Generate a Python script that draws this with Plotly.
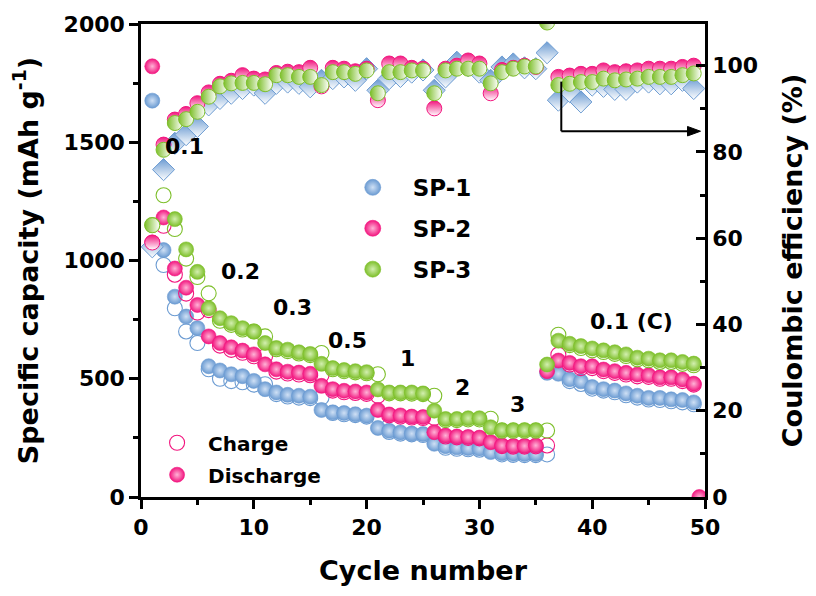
import plotly.graph_objects as go

cycles = list(range(1, 50))

sp1_discharge = [1676, 1044, 847, 763, 714, 553, 535, 519, 511, 491, 456, 442, 432, 428, 424,
                 368, 358, 355, 350, 344, 292, 280, 273, 268, 266, 225, 215, 210, 207, 205,
                 190, 185, 183, 182, 182, 525, 521, 498, 489, 465, 456, 450, 438, 428, 419,
                 419, 413, 410, 400]
sp1_charge = [1060, 981, 798, 700, 651, 540, 500, 490, 485, 475, 477, 435, 425, 420, 418,
              420, 355, 350, 346, 340, 340, 275, 268, 265, 262, 262, 208, 204, 202, 200,
              200, 180, 178, 177, 177, 180, 540, 490, 478, 458, 450, 443, 430, 420, 412,
              410, 405, 400, 392]
sp2_discharge = [1821, 1182, 966, 885, 812, 679, 651, 633, 619, 603, 561, 540, 530, 526, 521,
                 470, 456, 449, 446, 442, 368, 349, 345, 340, 338, 274, 260, 256, 254, 251,
                 232, 218, 216, 216, 218, 532, 577, 567, 553, 553, 539, 532, 525, 518, 515,
                 506, 506, 497, 479]
sp2_charge = [1075, 1147, 940, 860, 780, 790, 640, 622, 610, 595, 595, 530, 522, 518, 515,
              515, 450, 443, 440, 436, 428, 345, 340, 336, 334, 335, 256, 252, 250, 248,
              250, 215, 213, 213, 214, 218, 602, 560, 545, 545, 532, 525, 518, 510, 508,
              500, 500, 490, 475]
sp3_discharge = [None, None, 1175, 1047, 952, 798, 756, 735, 714, 700, 651, 630, 623, 612, 605,
                 563, 545, 537, 532, 528, 455, 442, 442, 442, 438, 365, 330, 330, 333, 333,
                 295, 283, 283, 283, 283, 560, 661, 648, 638, 628, 620, 612, 603, 589, 585,
                 578, 578, 571, 564]
sp3_charge = [1150, 1276, 1133, 1008, 930, 861, 745, 728, 708, 700, 679, 625, 617, 607, 600,
              609, 540, 532, 527, 523, 519, 438, 438, 437, 435, 428, 325, 325, 328, 328,
              331, 280, 280, 280, 280, 281, 686, 642, 630, 620, 613, 605, 596, 582, 578,
              571, 571, 563, 557]
sp2_extra_cycle = [49.5]
sp2_extra_capacity = [0]

sp1_ce = [58, 75.9, 82, 84, 85.9, 90.9, 92.4, 93.6, 94.7, 95.5, 93.6, 95.9, 96.2, 95.9, 95.1,
          96.6, 97, 97.4, 96.6, 99.3, 94.3, 97, 97.5, 98.5, 99, 94.3, 97.4, 100.8, 100, 98.5,
          96.6, 99.7, 100.4, 99.5, 99.3, 103, 92, 94, 91.6, 95.5, 95.2, 94.5, 94.5, 96.2, 96.2,
          95.8, 95.8, 96.6, 94.7]
sp2_ce = [59, 81.7, 87.5, 88.8, 91.3, 93.8, 95.8, 96.5, 97.8, 97.0, 96.8, 98.3, 98.6, 98.5, 99.5,
          95.2, 99.5, 99.3, 98.7, 99.3, 92, 100.5, 100.5, 99.5, 99.3, 90.1, 99.3, 100, 101.2, 100.5,
          93.6, 99, 99.5, 100, 99.7, None, 97.4, 97.7, 98.1, 98.1, 98.9, 98.5, 98.7, 98.9, 99.3,
          99.3, 99.3, 99.7, 100]
sp3_ce = [63, 80.5, 86.7, 87.6, 89.3, 92.8, 95.2, 95.9, 96.0, 96.0, 95.7, 97.8, 97.8, 97.4, 97.4,
          95.5, 98.5, 98.5, 98.1, 98.9, 93.6, 98.5, 98.5, 98.9, 98.9, 93.6, 98.9, 99.3, 99.3, 99.3,
          95.9, 98.5, 99.3, 99.8, 99.8, 110, 95.5, 95.8, 96.2, 96.2, 97, 96.6, 96.8, 97, 97.4,
          97.4, 97.4, 97.8, 98.2]

rate_labels = ["0.1", "0.2", "0.3", "0.5", "1", "2", "3", "0.1 (C)"]
rate_label_x = [3.9, 8.8, 13.4, 18.3, 23.6, 28.5, 33.4, 43.5]
rate_label_y = [1484, 952, 801, 662, 587, 461, 390, 742]

BLUE = "#6b9bd2"
PINK = "#f2167f"
GREEN = "#7dbf2a"
HI = {BLUE: "#cfe0f5", PINK: "#ffb3d6", GREEN: "#d3efb0"}
FONT = "DejaVu Sans"

fig = go.Figure()

def sphere(color, size=15):
    return dict(symbol="circle", size=size, color=color,
                line=dict(width=0.6, color=color),
                gradient=dict(type="radial", color=HI[color]))

series = [("SP-1", BLUE, sp1_charge, sp1_discharge),
          ("SP-2", PINK, sp2_charge, sp2_discharge),
          ("SP-3", GREEN, sp3_charge, sp3_discharge)]

for name, col, chg, dis in series:
    fig.add_trace(go.Scatter(x=cycles, y=chg, mode="markers", showlegend=False,
                             marker=dict(symbol="circle-open", size=15,
                                         color=col, line=dict(width=1.1, color=col))))
    fig.add_trace(go.Scatter(x=cycles, y=dis, mode="markers", showlegend=False,
                             marker=sphere(col)))

fig.add_trace(go.Scatter(x=sp2_extra_cycle, y=sp2_extra_capacity, mode="markers",
                         showlegend=False, marker=sphere(PINK)))

# Coulombic efficiency (half-filled markers)
fig.add_trace(go.Scatter(x=cycles, y=sp1_ce, yaxis="y2", mode="markers", showlegend=False,
                         marker=dict(symbol="diamond", size=17, color=BLUE,
                                     line=dict(width=1, color=BLUE),
                                     gradient=dict(type="vertical", color="white"))))
fig.add_trace(go.Scatter(x=cycles, y=sp2_ce, yaxis="y2", mode="markers", showlegend=False,
                         marker=dict(symbol="circle", size=15, color=PINK,
                                     line=dict(width=1, color=PINK),
                                     gradient=dict(type="vertical", color="white"))))
fig.add_trace(go.Scatter(x=cycles, y=sp3_ce, yaxis="y2", mode="markers", showlegend=False,
                         marker=dict(symbol="circle", size=15, color=GREEN,
                                     line=dict(width=1, color=GREEN),
                                     gradient=dict(type="horizontal", color="white"))))

# Legends
for i, (name, col, _, _) in enumerate(series):
    fig.add_trace(go.Scatter(x=[None], y=[None], mode="markers", name=name,
                             legend="legend", legendgroup=name, marker=sphere(col, 16)))
fig.add_trace(go.Scatter(x=[None], y=[None], mode="markers", name="Charge",
                         legend="legend2", legendgroup="c",
                         marker=dict(symbol="circle-open", size=15, color=PINK,
                                     line=dict(width=1.1, color=PINK))))
fig.add_trace(go.Scatter(x=[None], y=[None], mode="markers", name="Discharge",
                         legend="legend2", legendgroup="d", marker=sphere(PINK, 15)))

annotations = []
for t, x, y in zip(rate_labels, rate_label_x, rate_label_y):
    annotations.append(dict(x=x, y=y, xref="x", yref="y", text=t, showarrow=False,
                            font=dict(family=FONT, size=22, color="black", weight="bold")))

# L-shaped arrow pointing to the right axis
arrow_x0, arrow_x1 = 37.26, 49.6
arrow_ytop, arrow_y = 96.3, 84.8
shapes = [
    dict(type="line", xref="x", yref="y2", x0=arrow_x0, x1=arrow_x0, y0=arrow_ytop, y1=arrow_y,
         line=dict(color="black", width=2)),
    dict(type="line", xref="x", yref="y2", x0=arrow_x0, x1=arrow_x1 - 0.8, y0=arrow_y, y1=arrow_y,
         line=dict(color="black", width=2)),
    dict(type="path", xref="x", yref="y2",
         path=f"M {arrow_x1 - 1.15},{arrow_y + 1.1} L {arrow_x1},{arrow_y} "
              f"L {arrow_x1 - 1.15},{arrow_y - 1.1} Z",
         fillcolor="black", line=dict(color="black", width=1)),
]

fig.update_layout(
    width=816, height=596,
    margin=dict(l=141, r=110, t=20, b=99),
    paper_bgcolor="white", plot_bgcolor="white",
    font=dict(family=FONT, size=22, color="black", weight="bold"),
    xaxis=dict(range=[0, 50], dtick=10, showgrid=False, zeroline=False,
               showline=True, linewidth=2.5, linecolor="black", mirror=True,
               ticks="outside", ticklen=9, tickwidth=2.5, tickcolor="black",
               minor=dict(dtick=5, ticks="outside", ticklen=5, tickwidth=2.5, tickcolor="black"),
               tickfont=dict(family=FONT, size=22, weight="bold"),
               title=dict(text="Cycle number", standoff=22,
                          font=dict(family=FONT, size=27, weight="bold"))),
    yaxis=dict(range=[0, 2000], dtick=500, showgrid=False, zeroline=False,
               showline=True, linewidth=2.5, linecolor="black",
               ticks="outside", ticklen=9, tickwidth=2.5, tickcolor="black",
               minor=dict(dtick=250, ticks="outside", ticklen=5, tickwidth=2.5, tickcolor="black"),
               tickfont=dict(family=FONT, size=22, weight="bold"),
               title=dict(text="Specific capacity (mAh g<sup>-1</sup>)", standoff=18,
                          font=dict(family=FONT, size=27, weight="bold"))),
    yaxis2=dict(range=[0, 109.66], overlaying="y", side="right", dtick=20,
                showgrid=False, zeroline=False,
                showline=True, linewidth=2.5, linecolor="black",
                ticks="inside", ticklen=9, tickwidth=2.5, tickcolor="black",
                minor=dict(dtick=10, ticks="inside", ticklen=5, tickwidth=2.5, tickcolor="black"),
                tickfont=dict(family=FONT, size=22, weight="bold"),
                title=dict(text="Coulombic efficiency (%)", standoff=27,
                           font=dict(family=FONT, size=27, weight="bold"))),
    legend=dict(x=0.340, y=0.70, xanchor="left", yanchor="top", bgcolor="rgba(0,0,0,0)",
                font=dict(family=FONT, size=23, weight="bold"), tracegroupgap=8,
                itemwidth=70),
    legend2=dict(x=0.009, y=0.156, xanchor="left", yanchor="top", bgcolor="rgba(0,0,0,0)",
                 font=dict(family=FONT, size=20, weight="bold"), tracegroupgap=3,
                 itemwidth=52),
    annotations=annotations,
    shapes=shapes,
)

fig.write_html("out.html")
